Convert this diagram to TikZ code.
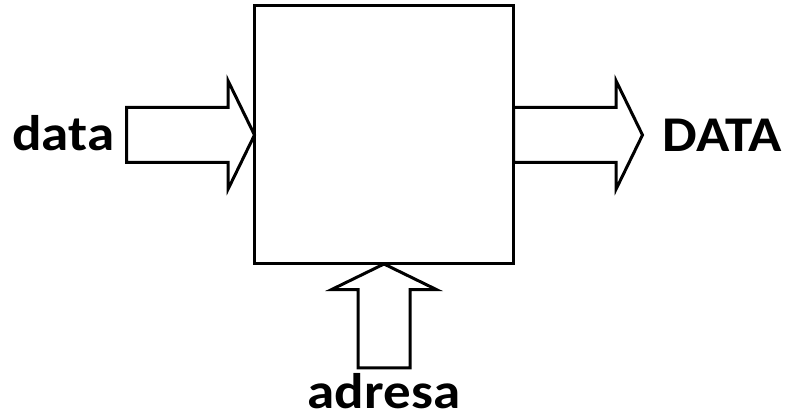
\documentclass[tikz,border=0pt]{standalone}
\usepackage{fontspec}
\setmainfont{Carlito}
\usetikzlibrary{shapes.arrows,positioning}
\tikzset{
	membox/.style = {draw, line width=3pt, minimum width=259pt, minimum height=258pt, inner sep=0pt, outer sep=0pt},
	% shaft width comes from text height + depth, head from head extend
	bus/.style = {draw, line width=3pt, single arrow, single arrow head indent=0pt,
		single arrow tip angle=128, text height=26pt, text depth=26pt, text width=0pt,
		single arrow head extend=26.5pt, inner sep=0pt, outer sep=0pt},
	lbl/.style = {font=\fontsize{50}{60}\selectfont\bfseries, xscale=1.1, inner sep=0pt}
}
\begin{document}
\begin{tikzpicture}[x=1pt,y=1pt]
				\useasboundingbox (0,0) rectangle (790,419);
				\node[membox] (mem) at (384,284) {};
				%
				\node[bus, minimum height=128pt, anchor=tip] (din) at (mem.west) {};
				\node[bus, minimum height=129pt, anchor=tail] (dout) at (mem.east) {};
				\node[bus, minimum height=104pt, text height=24.5pt, text depth=24.5pt, rotate=90, anchor=tip] (adr) at (mem.south) {};
				%
				\node[lbl, left=12pt of din, yshift=2pt] (din label) {data};
				\node[lbl, right=20pt of dout] (dout label) {DATA};
				\node[lbl, anchor=north] (adr label) at ([yshift=-5pt]adr.tail) {adresa};
			\end{tikzpicture}
\end{document}
